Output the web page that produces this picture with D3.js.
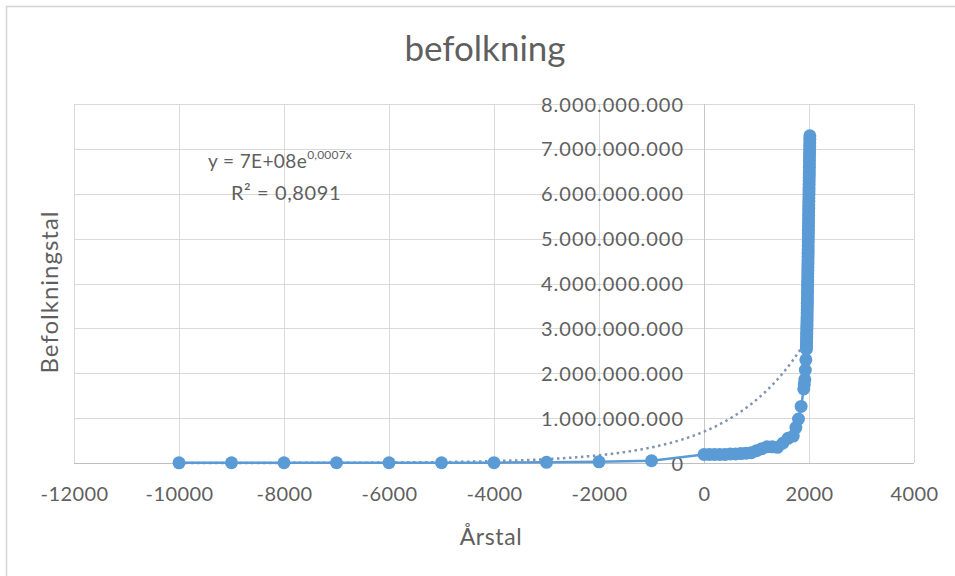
<!DOCTYPE html>
<html>
<head>
<meta charset="utf-8">
<script src="https://cdn.jsdelivr.net/npm/d3@7"></script>
<style>
  html, body { margin: 0; padding: 0; background: #fff; }
  svg { display: block; font-family: Lato, "Open Sans", sans-serif; }
</style>
</head>
<body>
<svg id="chart" width="955" height="576"></svg>
<script>
// Verdens befolkning (historiske estimater)
const years = [
  -10000, -9000, -8000, -7000, -6000, -5000, -4000, -3000, -2000, -1000,
  0, 100, 200, 300, 400, 500, 600, 700, 800, 900, 1000, 1100, 1200, 1300, 1400,
  1500, 1600, 1700, 1750, 1800, 1850, 1900, 1910, 1920, 1930, 1940,
  1950, 1951, 1952, 1953, 1954, 1955, 1956, 1957, 1958, 1959,
  1960, 1961, 1962, 1963, 1964, 1965, 1966, 1967, 1968, 1969,
  1970, 1971, 1972, 1973, 1974, 1975, 1976, 1977, 1978, 1979,
  1980, 1981, 1982, 1983, 1984, 1985, 1986, 1987, 1988, 1989,
  1990, 1991, 1992, 1993, 1994, 1995, 1996, 1997, 1998, 1999,
  2000, 2001, 2002, 2003, 2004, 2005, 2006, 2007, 2008, 2009,
  2010, 2011, 2012, 2013, 2014, 2015, 2016
];
const population = [
  4000000, 5000000, 5000000, 5000000, 5000000, 5000000, 7000000, 14000000, 27000000, 50000000,
  190000000, 190000000, 190000000, 190000000, 190000000, 200000000, 200000000, 210000000,
  220000000, 230000000, 275000000, 320000000, 360000000, 360000000, 350000000,
  440000000, 550000000, 600000000, 790000000, 980000000, 1260000000, 1650000000,
  1750000000, 1860000000, 2070000000, 2300000000,
  2536000000, 2584000000, 2630000000, 2677000000, 2724000000, 2773000000, 2822000000, 2873000000, 2925000000, 2979000000,
  3030000000, 3083000000, 3140000000, 3209000000, 3281000000, 3350000000, 3420000000, 3490000000, 3562000000, 3637000000,
  3700000000, 3785000000, 3861000000, 3936000000, 4010000000, 4080000000, 4149000000, 4218000000, 4287000000, 4359000000,
  4434000000, 4512000000, 4593000000, 4675000000, 4756000000, 4839000000, 4925000000, 5013000000, 5101000000, 5189000000,
  5275000000, 5359000000, 5441000000, 5521000000, 5600000000, 5678000000, 5756000000, 5833000000, 5909000000, 5985000000,
  6060000000, 6135000000, 6210000000, 6285000000, 6361000000, 6437000000, 6514000000, 6591000000, 6669000000, 6747000000,
  6825000000, 6902000000, 6980000000, 7058000000, 7136000000, 7213000000, 7290000000
];

// Akser
const xTicks = [-12000, -10000, -8000, -6000, -4000, -2000, 0, 2000, 4000];
const yTicks = [0, 1e9, 2e9, 3e9, 4e9, 5e9, 6e9, 7e9, 8e9];

// Eksponentiel tendenslinje: y = a * e^(b x)
const trendA = 7e8;
const trendB = 0.0007;
const trendLabel = { base: "y = 7E+08e", exponent: "0,0007x", r2: "R² = 0,8091" };

const chartTitle = "befolkning";
const xTitle = "Årstal";
const yTitle = "Befolkningstal";

const data = years.map((y, i) => ({ x: y, y: population[i] }));

const svg = d3.select("#chart");
const plot = { left: 74, right: 914, top: 104, bottom: 463 };

const x = d3.scaleLinear().domain([-12000, 4000]).range([plot.left, plot.right]);
const yScale = d3.scaleLinear().domain([0, 8e9]).range([plot.bottom, plot.top]);

const daLocale = d3.formatLocale({ decimal: ",", thousands: ".", grouping: [3], currency: ["", ""] });
const fmtY = daLocale.format(",");

const textColor = "#5f5f5f";
const gridColor = "#d9d9d9";
const seriesColor = "#5b9bd5";

// Ramme
svg.append("line").attr("x1", 6).attr("x2", 955).attr("y1", 6.5).attr("y2", 6.5)
  .attr("stroke", "#d4d4d4").attr("stroke-width", 1.5);
svg.append("line").attr("x1", 6.5).attr("x2", 6.5).attr("y1", 6).attr("y2", 576)
  .attr("stroke", "#d4d4d4").attr("stroke-width", 1.5);

// Gitterlinjer
const grid = svg.append("g");
grid.selectAll("line.v").data(xTicks).join("line")
  .attr("x1", d => Math.round(x(d)) + 0.5).attr("x2", d => Math.round(x(d)) + 0.5)
  .attr("y1", plot.top).attr("y2", plot.bottom)
  .attr("stroke", gridColor).attr("stroke-width", 1);
grid.selectAll("line.h").data(yTicks).join("line")
  .attr("x1", plot.left).attr("x2", plot.right)
  .attr("y1", d => Math.round(yScale(d)) + 0.5).attr("y2", d => Math.round(yScale(d)) + 0.5)
  .attr("stroke", d => d === 0 ? "#bfbfbf" : gridColor).attr("stroke-width", 1);

// X-akse etiketter (almindelig bindestreg som minus)
const xAxis = d3.axisBottom(x).tickValues(xTicks).tickSize(0).tickPadding(0).tickFormat(d => String(d));
const gx = svg.append("g").attr("transform", `translate(0, ${plot.bottom + 38})`).call(xAxis);
gx.select(".domain").remove();
gx.selectAll("text").attr("font-size", 20).attr("fill", textColor)
  .attr("font-family", "Lato, sans-serif").attr("dy", 0).attr("letter-spacing", 0.4);

// Y-akse (krydser ved x = 0)
const yAxis = d3.axisLeft(yScale).tickValues(yTicks).tickSize(0).tickPadding(0).tickFormat(fmtY);
const gy = svg.append("g").attr("transform", `translate(${x(0) - 21}, 0)`).call(yAxis);
gy.select(".domain").remove();
gy.selectAll("text").attr("font-size", 20).attr("fill", textColor)
  .attr("font-family", "Lato, sans-serif").attr("dy", "0.35em")
  .each(function (d) {
    if (d !== 0) d3.select(this).attr("textLength", 142).attr("lengthAdjust", "spacing");
  });
svg.append("line").attr("x1", Math.round(x(0)) + 0.5).attr("x2", Math.round(x(0)) + 0.5)
  .attr("y1", plot.top).attr("y2", plot.bottom).attr("stroke", "#c8c8c8");

// Tendenslinje
const trendYears = d3.range(-10000, 2016 + 1, 20);
const trendLine = d3.line().x(d => x(d)).y(d => yScale(trendA * Math.exp(trendB * d)));
svg.append("path").datum(trendYears)
  .attr("d", trendLine)
  .attr("fill", "none")
  .attr("stroke", "#8094b0")
  .attr("stroke-width", 2.5)
  .attr("stroke-dasharray", "2.5 3.5");

// Dataserie
const line = d3.line().x(d => x(d.x)).y(d => yScale(d.y));
svg.append("path").datum(data)
  .attr("d", line)
  .attr("fill", "none")
  .attr("stroke", seriesColor)
  .attr("stroke-width", 2.5);
svg.append("g").selectAll("circle").data(data).join("circle")
  .attr("cx", d => x(d.x)).attr("cy", d => yScale(d.y)).attr("r", 6.5)
  .attr("fill", seriesColor);

// Titel
svg.append("text").attr("x", 485).attr("y", 61).attr("text-anchor", "middle")
  .attr("font-size", 35).attr("fill", textColor).text(chartTitle);

// Aksetitler
svg.append("text").attr("x", 491).attr("y", 545).attr("text-anchor", "middle")
  .attr("font-size", 23).attr("letter-spacing", 0.6).attr("fill", textColor).text(xTitle);
svg.append("text").attr("transform", "translate(58, 292) rotate(-90)").attr("text-anchor", "middle")
  .attr("font-size", 24).attr("letter-spacing", 1).attr("fill", textColor).text(yTitle);

// Ligning og R²
const eq = svg.append("text").attr("x", 280).attr("y", 168).attr("text-anchor", "middle")
  .attr("font-size", 19).attr("letter-spacing", 0.4).attr("fill", textColor);
eq.append("tspan").text(trendLabel.base);
eq.append("tspan").attr("dy", -9).attr("font-size", 12).attr("letter-spacing", 0.2).text(trendLabel.exponent);
svg.append("text").attr("x", 286).attr("y", 200).attr("text-anchor", "middle")
  .attr("font-size", 20).attr("letter-spacing", 0.6).attr("fill", textColor).text(trendLabel.r2);
</script>
</body>
</html>
